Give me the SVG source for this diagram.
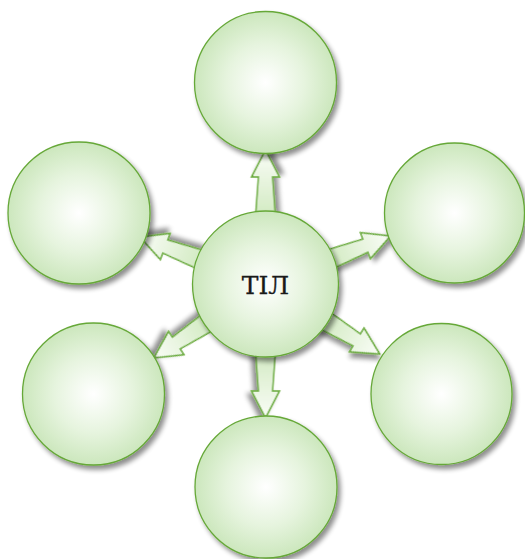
<svg xmlns="http://www.w3.org/2000/svg" width="525" height="559" viewBox="0 0 525 559">
<defs>
<radialGradient id="cg" cx="0.5" cy="0.5" r="0.5">
<stop offset="0" stop-color="#ffffff"/>
<stop offset="0.55" stop-color="#e6f4de"/>
<stop offset="1" stop-color="#cce7bd"/>
</radialGradient>
<linearGradient id="ag" x1="0" y1="0" x2="1" y2="0">
<stop offset="0" stop-color="#cde8bb"/>
<stop offset="1" stop-color="#fafdf7"/>
</linearGradient>
<filter id="sh" x="-20%" y="-20%" width="150%" height="150%">
<feGaussianBlur in="SourceAlpha" stdDeviation="2.5"/>
<feOffset dx="3" dy="4" result="b"/>
<feComponentTransfer><feFuncA type="linear" slope="0.45"/></feComponentTransfer>
<feMerge><feMergeNode/><feMergeNode in="SourceGraphic"/></feMerge>
</filter>
<polygon id="arr" points="60,-10.5 107,-7 107,-14 134,0 107,14 107,7 60,10.5"/>
</defs>
<style>
.node circle{fill:url(#cg);stroke:#66a838;stroke-width:1.3;filter:url(#sh)}
.arr{fill:url(#ag);stroke:#6aab3c;stroke-width:1.5;stroke-linejoin:miter;filter:url(#sh)}
text{font-family:"DejaVu Serif","Liberation Serif",serif;font-size:25px;fill:#1a1a1a;text-anchor:middle;stroke:#1a1a1a;stroke-width:0.3}
</style>
<g id="connectors">
<use href="#arr" class="arr" transform="translate(265.5,284) rotate(-90)"/>
<use href="#arr" class="arr" transform="translate(265.5,284) rotate(90)"/>
<use href="#arr" class="arr" transform="translate(265.5,284) rotate(-21)"/>
<use href="#arr" class="arr" transform="translate(265.5,284) rotate(31.5)"/>
<use href="#arr" class="arr" transform="translate(265.5,284) rotate(200.5)"/>
<use href="#arr" class="arr" transform="translate(265.5,284) rotate(146.5)"/>
</g>
<g id="n-top" class="node"><circle cx="265.5" cy="82.5" r="71"/></g>
<g id="n-rt" class="node"><circle cx="454.5" cy="213" r="70"/></g>
<g id="n-lt" class="node"><circle cx="79" cy="213" r="71"/></g>
<g id="n-lb" class="node"><circle cx="93.5" cy="394" r="71"/></g>
<g id="n-rb" class="node"><circle cx="441.5" cy="394" r="70.5"/></g>
<g id="n-bottom" class="node"><circle cx="266" cy="487" r="71"/></g>
<g id="n-center" class="node"><circle cx="265.5" cy="284" r="73"/><text x="265.5" y="294">ТІЛ</text></g>
</svg>
